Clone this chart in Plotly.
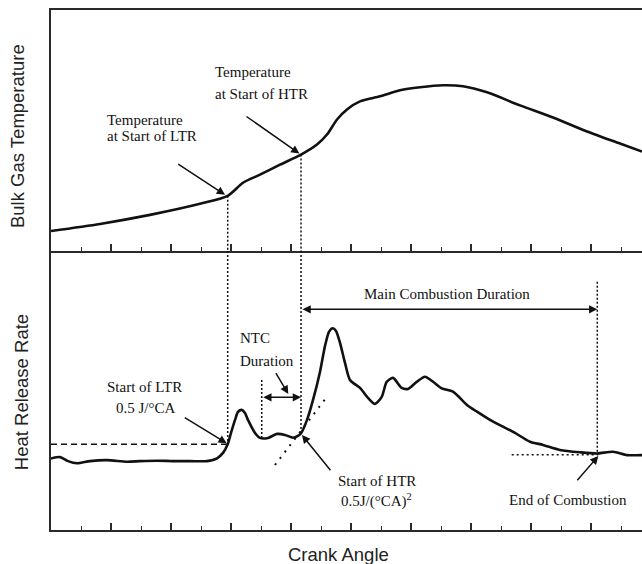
import plotly.graph_objects as go

# Crank angle (deg) and bulk gas temperature (K)
temp_ca = [-40.0, -31.83, -23.5, -15.17, -10.55, -8.0, -5.17, -1.83, 1.67, 4.33, 6.0,
           7.67, 9.33, 11.5, 14.83, 18.17, 21.5, 25.33, 28.67, 32.67, 38.17, 43.67,
           49.33, 54.83, 58.5]
temp_k = [700, 735, 780, 835, 875, 940, 980, 1030, 1080, 1130, 1180,
          1255, 1305, 1345, 1370, 1400, 1415, 1425, 1420, 1390, 1325, 1265,
          1195, 1135, 1095]

# Crank angle (deg) and heat release rate (J/deg CA)
hrr_ca = [-40.0, -38.5, -37.17, -35.67, -33.5, -30.67, -27.33, -25.17, -22.33, -19.67,
          -16.83, -14.0, -12.33, -11.33, -10.55, -10.0, -9.33, -8.83, -8.22, -7.67,
          -7.17, -6.0, -5.17, -3.83, -2.33, -1.0, 0.33, 1.17, 1.67, 2.67,
          3.67, 4.83, 5.67, 6.33, 6.95, 7.5, 8.17, 9.0, 9.83, 11.5,
          12.83, 14.0, 15.12, 15.95, 17.0, 18.45, 19.5, 20.95, 22.33, 23.67,
          25.12, 27.0, 29.33, 31.0, 33.17, 35.33, 37.33, 39.83, 42.0, 44.83,
          48.17, 51.0, 53.67, 56.0, 58.5]
hrr = [-0.21, -0.14, -0.34, -0.45, -0.34, -0.29, -0.37, -0.34, -0.32, -0.34,
       -0.34, -0.34, -0.20, 0.07, 0.50, 1.07, 1.72, 2.12, 2.22, 2.07,
       1.72, 1.07, 0.82, 0.82, 1.02, 0.97, 0.83, 0.92, 1.05, 1.72,
       2.72, 4.12, 5.42, 6.12, 6.30, 6.17, 5.57, 4.57, 3.72, 3.32,
       2.82, 2.52, 2.87, 3.62, 3.82, 3.32, 3.27, 3.62, 3.88, 3.63,
       3.30, 3.13, 2.47, 2.13, 1.72, 1.38, 1.07, 0.63, 0.47, 0.22,
       0.10, 0.04, 0.13, -0.04, -0.04]

# Combustion events
ltr_threshold = 0.5          # J/deg CA
ltr_start_ca = -10.55
ltr_start_temp = 875
htr_start_ca = 1.67
htr_start_temp = 1080
htr_start_hrr = 1.05
ntc_start_ca = -4.88
ntc_start_hrr = 0.82
eoc_ca = 51.05
eoc_hrr = 0.04
eoc_level = -0.02
htr_tangent_ca = [-2.67, 5.83]
htr_tangent_hrr = [-0.535, 2.815]

CA_RANGE = [-40, 58.5]
HRR_RANGE = [-3.785, 10.165]
T_RANGE = [600, 1800]
SPLIT = 0.5365

INK = "#111111"
AXC = "#2a2a2a"
SERIF = "Liberation Serif"
SANS = "Liberation Sans"

fig = go.Figure()
fig.add_trace(go.Scatter(x=hrr_ca, y=hrr, xaxis="x", yaxis="y", mode="lines",
                         line=dict(color=INK, width=2.6, shape="spline", smoothing=0.7),
                         hoverinfo="skip"))
fig.add_trace(go.Scatter(x=temp_ca, y=temp_k, xaxis="x2", yaxis="y2", mode="lines",
                         line=dict(color=INK, width=2.6, shape="spline", smoothing=0.7),
                         hoverinfo="skip"))
# tangent at start of high-temperature reaction
fig.add_trace(go.Scatter(x=htr_tangent_ca, y=htr_tangent_hrr, xaxis="x", yaxis="y",
                         mode="lines", line=dict(color=INK, width=2, dash="2px,6px"),
                         hoverinfo="skip"))

xcommon = dict(range=CA_RANGE, showline=True, linecolor=AXC, linewidth=1.6,
               ticks="inside", tick0=-30, dtick=10, ticklen=7, tickwidth=1.5,
               tickcolor=AXC, showticklabels=False, showgrid=False, zeroline=False,
               minor=dict(dtick=5, tick0=-35, ticks="inside", ticklen=4,
                          tickwidth=1.3, tickcolor=AXC, showgrid=False))
ycommon = dict(showline=True, linecolor=AXC, linewidth=1.6, ticks="",
               showticklabels=False, showgrid=False, zeroline=False)

fig.update_layout(
    width=642, height=564,
    margin=dict(l=51, r=0, t=10, b=34),
    paper_bgcolor="white", plot_bgcolor="white",
    showlegend=False,
    xaxis=dict(anchor="y", **xcommon),
    xaxis2=dict(anchor="y2", matches="x", mirror=True, **xcommon),
    yaxis=dict(domain=[0, SPLIT], range=HRR_RANGE, anchor="x", **ycommon),
    yaxis2=dict(domain=[SPLIT, 1], range=T_RANGE, anchor="x2", **ycommon),
)

dotted = dict(color=INK, width=1.5, dash="2px,2px")
shapes = [
    # start of LTR
    dict(type="line", xref="x2", yref="y2", x0=ltr_start_ca, x1=ltr_start_ca,
         y0=ltr_start_temp, y1=T_RANGE[0], line=dotted),
    dict(type="line", xref="x", yref="y", x0=ltr_start_ca, x1=ltr_start_ca,
         y0=HRR_RANGE[1], y1=ltr_threshold, line=dotted),
    dict(type="line", xref="x", yref="y", x0=CA_RANGE[0], x1=ltr_start_ca,
         y0=ltr_threshold, y1=ltr_threshold,
         line=dict(color=INK, width=1.5, dash="6px,4px")),
    # start of HTR
    dict(type="line", xref="x2", yref="y2", x0=htr_start_ca, x1=htr_start_ca,
         y0=htr_start_temp, y1=T_RANGE[0], line=dotted),
    dict(type="line", xref="x", yref="y", x0=htr_start_ca, x1=htr_start_ca,
         y0=HRR_RANGE[1], y1=htr_start_hrr, line=dotted),
    # start of NTC
    dict(type="line", xref="x", yref="y", x0=ntc_start_ca, x1=ntc_start_ca,
         y0=3.715, y1=ntc_start_hrr, line=dotted),
    # end of combustion
    dict(type="line", xref="x", yref="y", x0=eoc_ca, x1=eoc_ca,
         y0=8.63, y1=eoc_hrr, line=dotted),
    dict(type="line", xref="x", yref="y", x0=36.78, x1=51.2,
         y0=eoc_level, y1=eoc_level, line=dict(color=INK, width=1.5, dash="2px,3px")),
]
fig.update_layout(shapes=shapes)

ann = []


def label(text, x, y, ref, xanchor="left", size=15):
    ann.append(dict(text=text, x=x, y=y, xref="x" if ref == "y" else "x2", yref=ref,
                    xanchor=xanchor, yanchor="middle", showarrow=False,
                    font=dict(family=SERIF, size=size, color=INK)))


def arrow(x0, y0, x1, y1, ref, both=False):
    xr = "x" if ref == "y" else "x2"
    a = dict(text="", x=x1, y=y1, ax=x0, ay=y0, xref=xr, yref=ref, axref=xr, ayref=ref,
             showarrow=True, arrowhead=2, arrowsize=1.1, arrowwidth=1.5,
             arrowcolor=INK, standoff=0, startstandoff=0)
    if both:
        a.update(arrowside="end+start", startarrowhead=2, startarrowsize=1.1)
    ann.append(a)


# top panel
label("Temperature", -31.0, 1250, "y2")
label("at Start of LTR", -31.0, 1175, "y2")
arrow(-19.05, 1038, -11.0, 880, "y2")
label("Temperature", -12.95, 1491, "y2")
label("at Start of HTR", -12.95, 1383, "y2")
arrow(-7.67, 1275, 1.4, 1085, "y2")

# bottom panel
label("Start of LTR", -24.5, 3.38, "y", xanchor="center")
label("0.5 J/°CA", -24.2, 2.30, "y", xanchor="center")
arrow(-17.95, 1.88, -10.72, 0.55, "y")
label("NTC", -8.83, 5.815, "y")
label("Duration", -8.83, 4.665, "y")
arrow(-2.67, 4.13, -0.45, 3.015, "y")
arrow(ntc_start_ca, 2.85, htr_start_ca, 2.85, "y", both=True)
label("Main Combustion Duration", 26.08, 8.015, "y", xanchor="center")
arrow(htr_start_ca, 7.25, eoc_ca, 7.25, "y", both=True)
label("Start of HTR", 14.28, -1.32, "y", xanchor="center")
label("0.5J/(°CA)<sup>2</sup>", 14.17, -2.32, "y", xanchor="center")
arrow(6.78, -0.87, 1.83, 0.965, "y")
label("End of Combustion", 46.22, -2.285, "y", xanchor="center")
arrow(47.5, -1.37, 51.22, -0.085, "y")

# axis titles
title_font = dict(family=SANS, size=18.5, color="#222222")
ann.append(dict(text="Crank Angle", x=0.487, y=-0.048, xref="paper", yref="paper",
                xanchor="center", yanchor="middle", showarrow=False, font=title_font))
ann.append(dict(text="Bulk Gas Temperature", x=-0.0558, y=0.7577, xref="paper",
                yref="paper", xanchor="center", yanchor="middle", textangle=-90,
                showarrow=False, font=title_font))
ann.append(dict(text="Heat Release Rate", x=-0.0496, y=0.2644, xref="paper",
                yref="paper", xanchor="center", yanchor="middle", textangle=-90,
                showarrow=False, font=title_font))

fig.update_layout(annotations=ann)
fig.write_html("out.html")
